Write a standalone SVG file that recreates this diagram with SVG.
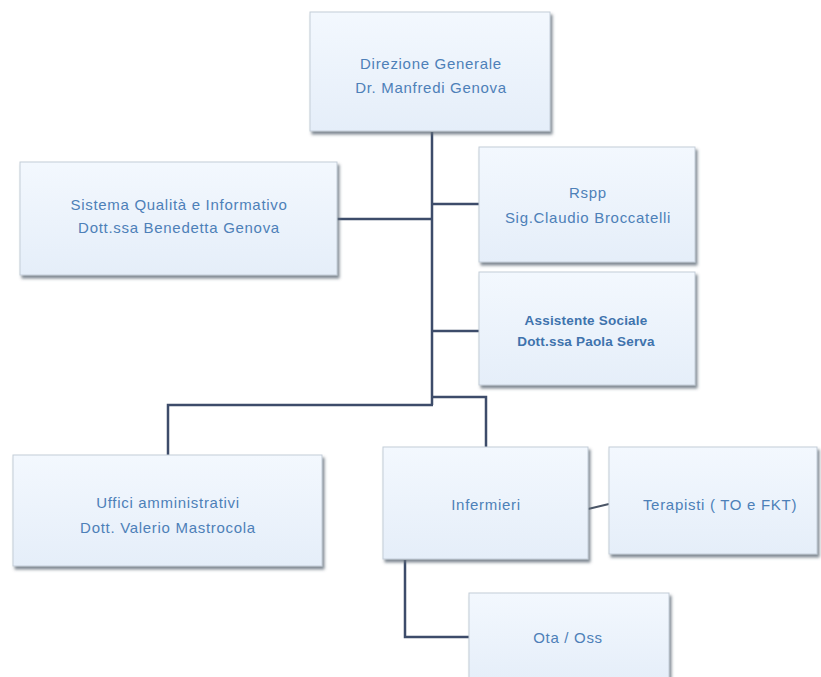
<svg xmlns="http://www.w3.org/2000/svg" width="821" height="677" viewBox="0 0 821 677">
<defs>
<linearGradient id="g" x1="0" y1="0" x2="0" y2="1">
<stop offset="0" stop-color="#f3f8fe"/>
<stop offset="1" stop-color="#e5eef9"/>
</linearGradient>
<filter id="sh" x="-5%" y="-5%" width="112%" height="115%">
<feDropShadow dx="2" dy="3" stdDeviation="1.5" flood-color="#5f6b78" flood-opacity="0.8"/>
</filter>
<style>
.box{fill:url(#g);stroke:#c3cdd8;stroke-width:1;filter:url(#sh)}
.t{font-family:"Liberation Sans",Arial,sans-serif;font-size:15px;letter-spacing:0.7px;fill:#4d80b8;text-anchor:middle}
.b{font-weight:bold;font-size:13.5px;letter-spacing:0.2px;fill:#3f73ad}
.c{fill:none;stroke:#3d4c6a;stroke-width:2.5}
.c2{fill:none;stroke:#4a5566;stroke-width:2}
</style>
</defs>
<rect width="821" height="677" fill="#ffffff"/>
<g id="connectors">
<path class="c" d="M432,132 V405"/>
<path class="c" d="M337,219 H432"/>
<path class="c" d="M432,204 H479"/>
<path class="c" d="M432,331 H479"/>
<path class="c" d="M433,405 H168 V455"/>
<path class="c" d="M432,397 H486 V447"/>
<path class="c2" d="M588,509 L609,504"/>
<path class="c" d="M405,560 V637 H470"/>
</g>
<g id="direzione">
<rect class="box" x="310" y="12" width="240" height="119"/>
<text class="t" x="431" y="69">Direzione Generale</text>
<text class="t" x="431" y="93">Dr. Manfredi Genova</text>
</g>
<g id="sistema">
<rect class="box" x="20" y="162" width="317" height="113"/>
<text class="t" x="179" y="210">Sistema Qualità e Informativo</text>
<text class="t" x="179" y="233">Dott.ssa Benedetta Genova</text>
</g>
<g id="rspp">
<rect class="box" x="479" y="147" width="216" height="115"/>
<text class="t" x="588" y="198">Rspp</text>
<text class="t" x="588" y="223">Sig.Claudio Broccatelli</text>
</g>
<g id="assistente">
<rect class="box" x="479" y="272" width="216" height="113"/>
<text class="t b" x="586" y="325">Assistente Sociale</text>
<text class="t b" x="586" y="346">Dott.ssa Paola Serva</text>
</g>
<g id="uffici">
<rect class="box" x="13" y="455" width="309" height="111"/>
<text class="t" x="168" y="508">Uffici amministrativi</text>
<text class="t" x="168" y="533">Dott. Valerio Mastrocola</text>
</g>
<g id="infermieri">
<rect class="box" x="383" y="447" width="205" height="112"/>
<text class="t" x="486" y="510">Infermieri</text>
</g>
<g id="terapisti">
<rect class="box" x="609" y="447" width="208" height="107"/>
<text class="t" x="720" y="510">Terapisti ( TO e FKT)</text>
</g>
<g id="ota">
<rect class="box" x="469" y="593" width="200" height="90"/>
<text class="t" x="568" y="643">Ota / Oss</text>
</g>
</svg>
